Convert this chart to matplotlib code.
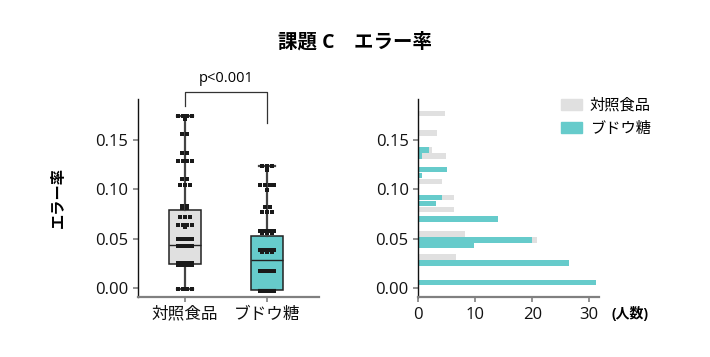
import numpy as np
import matplotlib
matplotlib.use("Agg")
import matplotlib.pyplot as plt
from matplotlib.patches import Patch

plt.rcParams['font.family'] = ['Open Sans', 'Noto Sans CJK JP', 'DejaVu Sans']

groups = ["対照食品", "ブドウ糖"]
colors = ["#e0e0e0", "#66cbcb"]

# box stats
q1 = [0.0243, -0.002]
med = [0.0443, 0.0284]
q3 = [0.079, 0.0527]
whislo = [-0.001, -0.002]
whishi = [0.174, 0.124]

# strip points (value, how many)
ctrl_vals = [0.174, 0.171, 0.156, 0.137, 0.129, 0.111, 0.105, 0.083, 0.081, 0.072,
             0.064, 0.062, 0.0497, 0.043, 0.026, 0.0233, -0.001]
ctrl_cnt = [4, 1, 2, 2, 4, 2, 3, 2, 2, 3, 4, 1, 5, 5, 5, 6, 4]
gluc_vals = [0.124, 0.120, 0.104, 0.099, 0.082, 0.077, 0.058, 0.056, 0.039, 0.037,
             0.018, -0.003]
gluc_cnt = [3, 1, 4, 1, 2, 3, 5, 3, 5, 3, 7, 6]

# histogram (bin centre, counts)
bin_centers = [0.0061, 0.0256, 0.0317, 0.0433, 0.049, 0.055, 0.070, 0.080, 0.086,
               0.092, 0.108, 0.114, 0.120, 0.134, 0.140, 0.157, 0.177]
ctrl_hist = [0, 0, 6.6, 0, 20.9, 8.2, 0, 6.3, 0, 6.3, 4.2, 0, 5.1, 4.9, 2.4, 3.35, 4.6]
gluc_hist = [31.2, 26.4, 0, 9.8, 19.9, 0, 13.9, 0, 3.1, 4.2, 0, 0.65, 5.0, 0.65, 1.8, 0, 0]

fig = plt.figure(figsize=(7.1, 3.57), dpi=100)
fig.text(0.5, 0.882, "課題 C　エラー率", ha="center", va="center",
         fontsize=14, fontweight="bold")

ylim = (-0.0088, 0.1916)

def style(ax):
    ax.spines["top"].set_visible(False)
    ax.spines["right"].set_visible(False)
    ax.spines["left"].set_color("#111111")
    ax.spines["left"].set_linewidth(1.0)
    ax.spines["bottom"].set_color("#808080")
    ax.spines["bottom"].set_linewidth(1.6)
    ax.tick_params(axis="both", colors="#808080", labelcolor="#111111",
                   labelsize=12, length=3.5, width=1.2)

# ---- left: box + strip
ax1 = fig.add_axes([0.1944, 0.168, 0.255, 0.555])
stats = []
for i in range(2):
    stats.append(dict(q1=q1[i], med=med[i], q3=q3[i], whislo=whislo[i], whishi=whishi[i]))
bp = ax1.bxp(stats, positions=[0, 1], widths=0.39, patch_artist=True, showfliers=False,
             boxprops=dict(edgecolor="#222222", linewidth=1.1),
             medianprops=dict(color="#222222", linewidth=1.0),
             whiskerprops=dict(color="#444444", linewidth=1.6),
             capprops=dict(color="#444444", linewidth=1.6), capwidths=0.2)
for patch, c in zip(bp["boxes"], colors):
    patch.set_facecolor(c)

for pos, vals, cnts in [(0, ctrl_vals, ctrl_cnt), (1, gluc_vals, gluc_cnt)]:
    for v, k in zip(vals, cnts):
        half = min(0.085, 0.03 * (k - 1))
        xs = pos + np.linspace(-half, half, k)
        ax1.plot(xs, [v] * k, "s", color="#1a1a1a", markersize=2.6,
                 markeredgewidth=0, zorder=4)

ax1.set_xlim(-0.57, 1.63)
ax1.set_ylim(*ylim)
ax1.set_xticks([0, 1])
ax1.set_xticklabels(groups, fontsize=11)
ax1.set_yticks([0, 0.05, 0.10, 0.15])
ax1.set_yticklabels(["0.00", "0.05", "0.10", "0.15"])
ax1.set_ylabel("エラー率", fontsize=11, fontweight="bold", labelpad=21)
style(ax1)

# significance bracket
ax1.plot([0, 0, 1, 1], [0.184, 0.1986, 0.1986, 0.167], color="#333333",
         linewidth=0.9, clip_on=False)
ax1.text(0.5, 0.2125, "p<0.001", ha="center", va="center", fontsize=10.5)

# ---- right: horizontal histogram
ax2 = fig.add_axes([0.5893, 0.168, 0.255, 0.555])
h = 0.0055
ax2.barh(bin_centers, ctrl_hist, height=h, color=colors[0], label=groups[0])
ax2.barh(bin_centers, gluc_hist, height=h, color=colors[1], label=groups[1])
ax2.set_xlim(0, 31.8)
ax2.set_ylim(*ylim)
ax2.set_xticks([0, 10, 20, 30])
ax2.set_yticks([0, 0.05, 0.10, 0.15])
ax2.set_yticklabels(["0.00", "0.05", "0.10", "0.15"])
style(ax2)
ax2.text(1.17, -0.085, "(人数)", transform=ax2.transAxes, ha="center", va="center",
         fontsize=10, fontweight="bold")
ax2.legend(handles=[Patch(color=colors[0], label=groups[0]),
                    Patch(color=colors[1], label=groups[1])],
           loc="upper left", bbox_to_anchor=(0.71, 1.07), frameon=False,
           fontsize=11, handlelength=1.4, handleheight=0.75, labelspacing=0.55,
           handletextpad=0.5)

fig.savefig("out.png", dpi=100)
